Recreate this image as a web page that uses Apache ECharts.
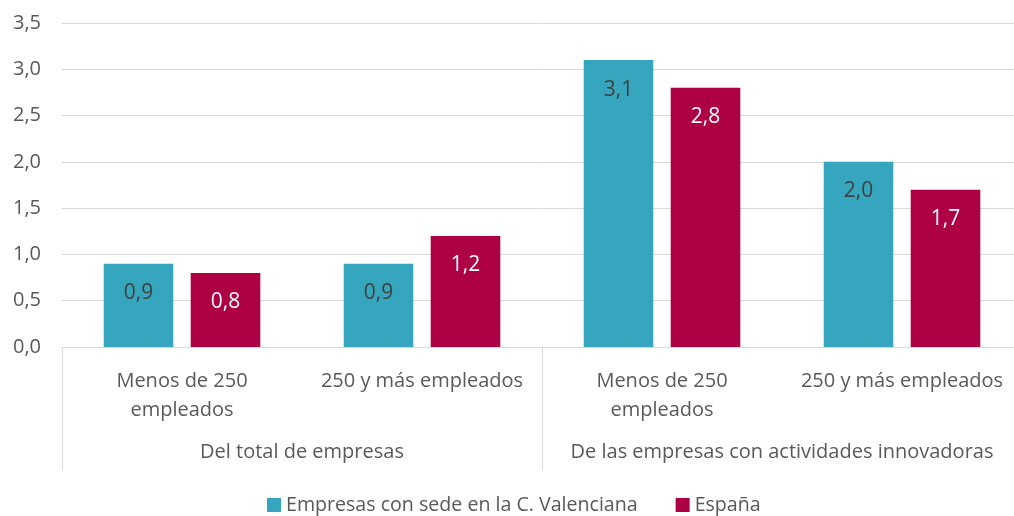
<!DOCTYPE html>
<html>
<head>
<meta charset="utf-8">
<script src="https://cdn.jsdelivr.net/npm/echarts@6/dist/echarts.min.js"></script>
<style>
  html, body { margin: 0; padding: 0; background: #fff; }
  #chart { width: 1014px; height: 516px; }
</style>
</head>
<body>
<div id="chart"></div>
<script>
// datos
var categorias = ['Menos de 250\nempleados', '250 y más empleados', 'Menos de 250\nempleados', '250 y más empleados'];
var grupos = ['Del total de empresas', 'De las empresas con actividades innovadoras'];
var valencia = [0.9, 0.9, 3.1, 2.0];
var espana = [0.8, 1.2, 2.8, 1.7];
var nombres = ['Empresas con sede en la C. Valenciana', 'España'];

var font = 'Open Sans, Liberation Sans, sans-serif';
var gris = '#595959';
var coma = function (v) { return v.toFixed(1).replace('.', ','); };

var chart = echarts.init(document.getElementById('chart'));

chart.setOption({
    animation: false,
    // el área del gráfico se sale por la derecha, como en el original
    grid: { left: 62, width: 960, top: 23, bottom: 169, outerBoundsMode: 'none', containLabel: false },
    legend: {
        top: 490,
        left: 262,
        itemWidth: 14,
        itemHeight: 14,
        itemGap: 38,
        icon: 'rect',
        textStyle: { fontFamily: font, fontSize: 19.6, color: gris },
        data: nombres
    },
    xAxis: [{
        type: 'category',
        data: categorias,
        axisLine: { show: true, lineStyle: { color: '#d9d9d9' } },
        axisTick: { show: false },
        axisLabel: { fontFamily: font, fontSize: 20, color: gris, lineHeight: 29, margin: 20, interval: 0 }
    }, {
        type: 'category',
        data: grupos,
        position: 'bottom',
        axisLine: { show: true, lineStyle: { color: '#d9d9d9' } },
        axisTick: { show: true, length: 123, lineStyle: { color: '#d9d9d9' } },
        axisLabel: { fontFamily: font, fontSize: 20, color: gris, margin: 95, interval: 0 }
    }],
    yAxis: {
        type: 'value',
        min: 0,
        max: 3.5,
        interval: 0.5,
        axisLine: { show: false },
        axisTick: { show: false },
        splitLine: { lineStyle: { color: '#d9d9d9' } },
        axisLabel: { fontFamily: font, fontSize: 20, color: gris, margin: 21, formatter: coma }
    },
    series: [{
        name: nombres[0],
        type: 'bar',
        data: valencia,
        barWidth: '29%',
        barGap: '25%',
        itemStyle: { color: '#36a6be' },
        label: {
            show: true, position: 'insideTop', distance: 19,
            fontFamily: font, fontSize: 21, color: '#404040',
            formatter: function (p) { return coma(p.value); }
        }
    }, {
        name: nombres[1],
        type: 'bar',
        data: espana,
        barWidth: '29%',
        itemStyle: { color: '#ae0045' },
        label: {
            show: true, position: 'insideTop', distance: 19,
            fontFamily: font, fontSize: 21, color: '#ffffff',
            formatter: function (p) { return coma(p.value); }
        }
    }]
});
</script>
</body>
</html>
